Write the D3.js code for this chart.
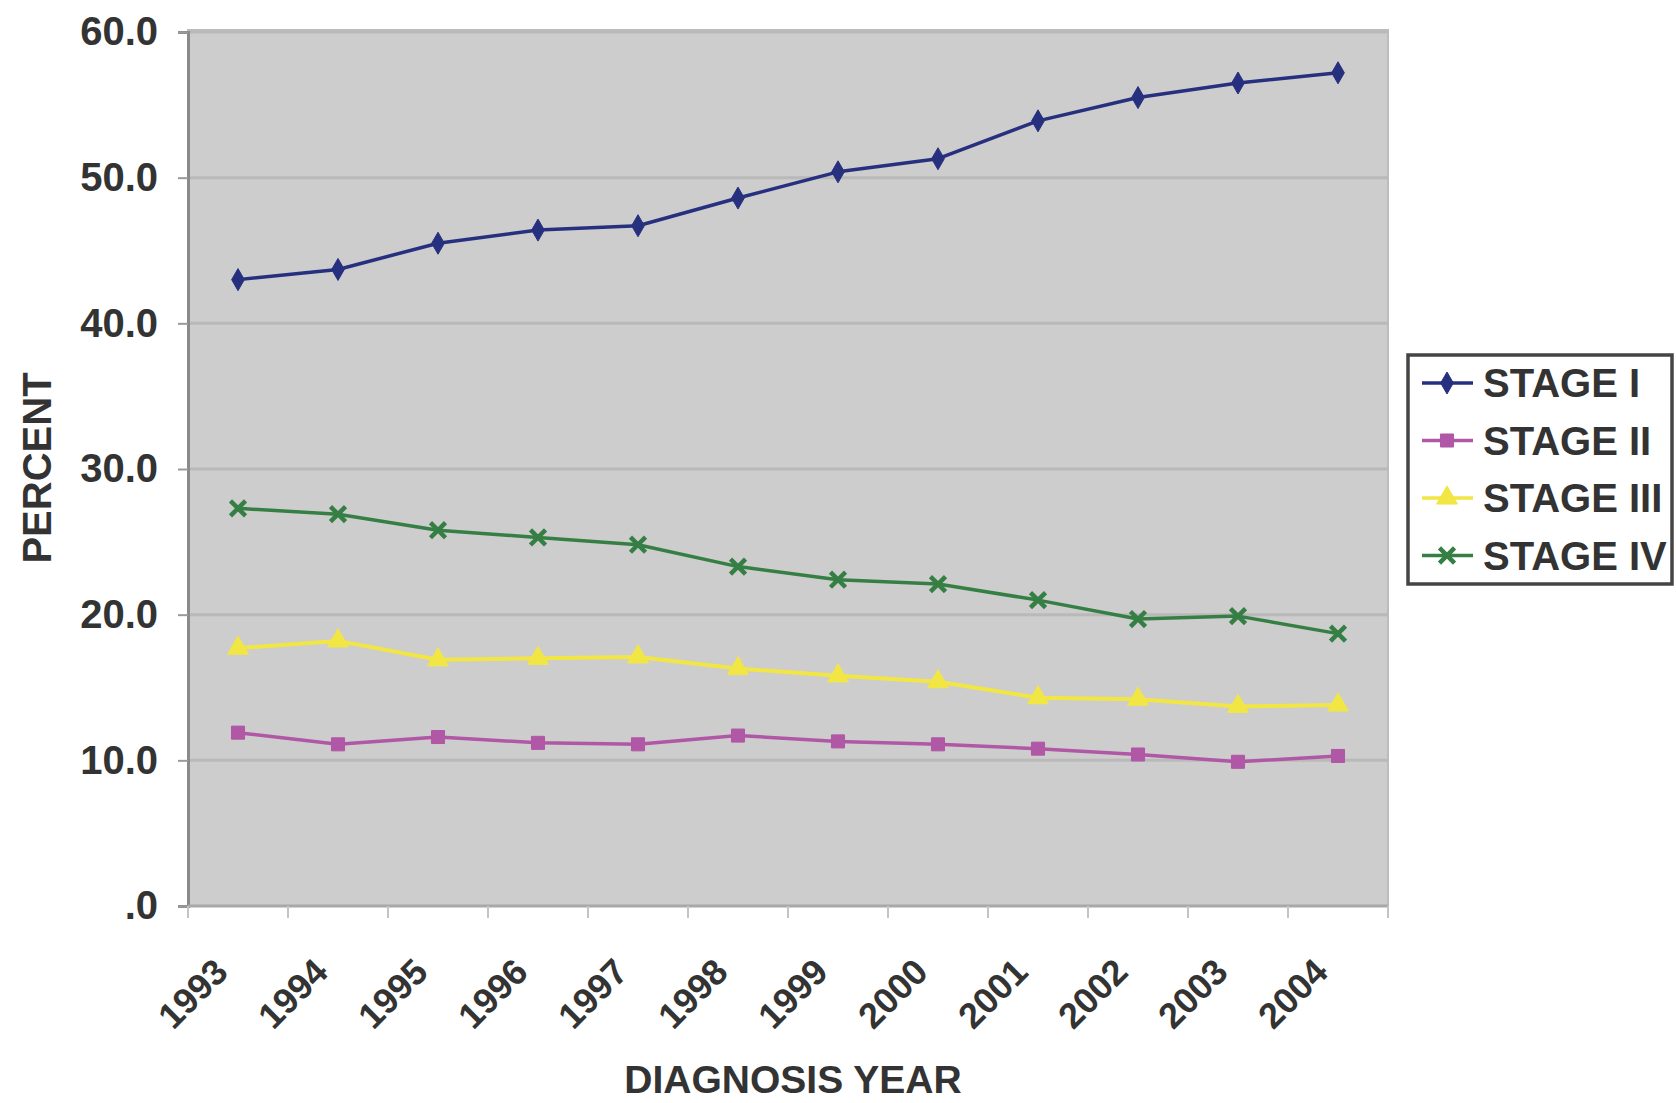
<!DOCTYPE html>
<html>
<head>
<meta charset="utf-8">
<script src="https://cdn.jsdelivr.net/npm/d3@7"></script>
<style>
  html, body { margin: 0; padding: 0; background: #ffffff; }
  svg { display: block; }
  text { font-family: "Liberation Sans", Arial, sans-serif; font-weight: bold; fill: #333333; }
</style>
</head>
<body>
<svg id="chart" width="1676" height="1103"></svg>
<script>
const years = ["1993","1994","1995","1996","1997","1998","1999","2000","2001","2002","2003","2004"];
const stage1 = [43.0, 43.7, 45.5, 46.4, 46.7, 48.6, 50.4, 51.3, 53.9, 55.5, 56.5, 57.2];
const stage2 = [11.9, 11.1, 11.6, 11.2, 11.1, 11.7, 11.3, 11.1, 10.8, 10.4, 9.9, 10.3];
const stage3 = [17.7, 18.2, 16.9, 17.0, 17.1, 16.3, 15.8, 15.4, 14.3, 14.2, 13.7, 13.8];
const stage4 = [27.3, 26.9, 25.8, 25.3, 24.8, 23.3, 22.4, 22.1, 21.0, 19.7, 19.9, 18.7];
const seriesNames = ["STAGE I", "STAGE II", "STAGE III", "STAGE IV"];
const yTicks = [0, 10, 20, 30, 40, 50, 60];

(function () {
const series = [
  { name: seriesNames[0], values: stage1, color: "#27307f", symbol: d3.symbolDiamond, size: 140, kind: "fill" },
  { name: seriesNames[1], values: stage2, color: "#b057a6", symbol: d3.symbolSquare, size: 170, kind: "fill" },
  { name: seriesNames[2], values: stage3, color: "#f2e645", symbol: d3.symbolTriangle, size: 190, kind: "fill" },
  { name: seriesNames[3], values: stage4, color: "#357f45", symbol: d3.symbolTimes, size: 150, kind: "stroke" }
];

const svg = d3.select("#chart");
const pLeft = 188, pRight = 1388, pTop = 32, pBottom = 906;

const x = d3.scaleBand().domain(years).range([pLeft, pRight]);
const y = d3.scaleLinear().domain([0, 60]).range([pBottom, pTop]);

// plot background
svg.append("rect")
  .attr("x", pLeft).attr("y", pTop - 2)
  .attr("width", pRight - pLeft).attr("height", pBottom - pTop + 2)
  .attr("fill", "#cdcdcd").attr("stroke", "#bcbcbc").attr("stroke-width", 2);

// gridlines
svg.append("g").selectAll("line").data(yTicks.filter(d => d > 0)).join("line")
  .attr("x1", pLeft).attr("x2", pRight)
  .attr("y1", d => y(d)).attr("y2", d => y(d))
  .attr("stroke", "#b9b9b9").attr("stroke-width", 3);

// y axis
const yAxis = d3.axisLeft(y).tickValues(yTicks)
  .tickFormat(d => d === 0 ? ".0" : d.toFixed(1))
  .tickSize(10).tickPadding(20);
const gy = svg.append("g").attr("transform", `translate(${pLeft},0)`).call(yAxis);
gy.select(".domain").attr("stroke", "#8a8a8a").attr("stroke-width", 3);
gy.selectAll(".tick line").attr("stroke", "#9a9a9a").attr("stroke-width", 2);
gy.selectAll(".tick text").attr("font-size", 40).attr("fill", "#333333")
  .attr("font-family", "'Liberation Sans', Arial, sans-serif").attr("font-weight", "bold");

// x axis line
svg.append("line").attr("x1", pLeft).attr("x2", pRight)
  .attr("y1", pBottom).attr("y2", pBottom)
  .attr("stroke", "#a8a8a8").attr("stroke-width", 3);

// x ticks at category boundaries
const boundaries = years.map(d => x(d)).concat([pRight]);
svg.append("g").selectAll("line").data(boundaries).join("line")
  .attr("x1", d => d).attr("x2", d => d)
  .attr("y1", pBottom).attr("y2", pBottom + 12)
  .attr("stroke", "#c4c4c4").attr("stroke-width", 2);

// x tick labels
svg.append("g").selectAll("text").data(years).join("text")
  .attr("transform", d => `translate(${x(d) + x.bandwidth() / 2 - 8},${pBottom + 68}) rotate(-45)`)
  .attr("text-anchor", "end")
  .attr("font-size", 36)
  .text(d => d);

// axis titles
svg.append("text")
  .attr("transform", `translate(51,468) rotate(-90)`)
  .attr("text-anchor", "middle").attr("font-size", 40)
  .text("PERCENT");
svg.append("text")
  .attr("x", 793).attr("y", 1093)
  .attr("text-anchor", "middle").attr("font-size", 39)
  .text("DIAGNOSIS YEAR");

// lines and markers
const line = d3.line()
  .x((d, i) => x(years[i]) + x.bandwidth() / 2)
  .y(d => y(d));

series.forEach(s => {
  svg.append("path").datum(s.values)
    .attr("d", line)
    .attr("fill", "none")
    .attr("stroke", s.color)
    .attr("stroke-width", s.name === "STAGE III" ? 4 : 3.5)
    .attr("stroke-linejoin", "round");
  const sym = d3.symbol().type(s.symbol).size(s.size);
  svg.append("g").selectAll("path").data(s.values).join("path")
    .attr("transform", (d, i) => `translate(${x(years[i]) + x.bandwidth() / 2},${y(d)})`)
    .attr("d", sym)
    .attr("fill", s.kind === "fill" ? s.color : "none")
    .attr("stroke", s.color)
    .attr("stroke-width", s.kind === "fill" ? 1 : 4.5);
});

// legend
const lg = svg.append("g");
lg.append("rect")
  .attr("x", 1408).attr("y", 355).attr("width", 264).attr("height", 229)
  .attr("fill", "#ffffff").attr("stroke", "#444444").attr("stroke-width", 3.5);
series.forEach((s, i) => {
  const cy = 383 + i * 57.5;
  lg.append("line").attr("x1", 1422).attr("x2", 1473)
    .attr("y1", cy).attr("y2", cy)
    .attr("stroke", s.color).attr("stroke-width", 3.5);
  lg.append("path")
    .attr("transform", `translate(1447,${cy})`)
    .attr("d", d3.symbol().type(s.symbol).size(s.size)())
    .attr("fill", s.kind === "fill" ? s.color : "none")
    .attr("stroke", s.color)
    .attr("stroke-width", s.kind === "fill" ? 1 : 4.5);
  lg.append("text").attr("x", 1483).attr("y", cy + 14)
    .attr("font-size", 40).text(s.name);
});
})();
</script>
</body>
</html>
